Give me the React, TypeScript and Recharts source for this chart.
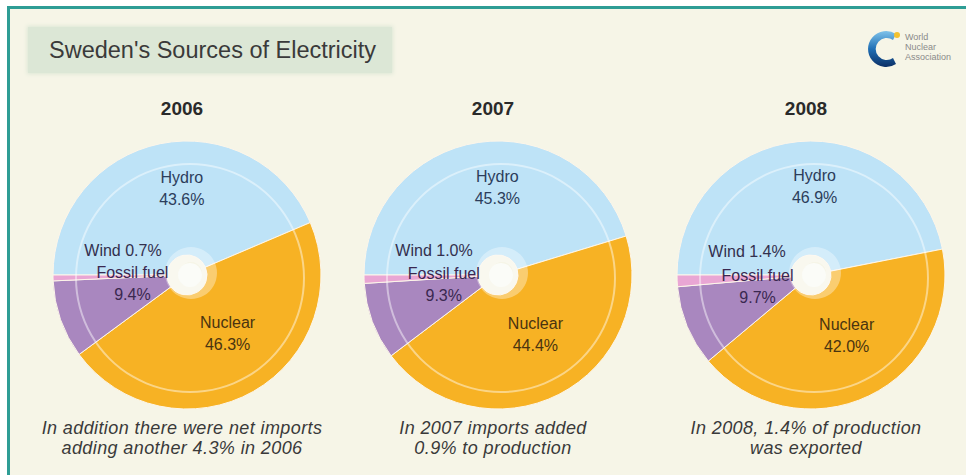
import { PieChart, Pie, Cell } from 'recharts'

// Sweden's electricity sources, share of production (%)
const years = ['2006', '2007', '2008']
const sources = ['Hydro', 'Nuclear', 'Fossil fuel', 'Wind']
const share2006 = [43.6, 46.3, 9.4, 0.7]
const share2007 = [45.3, 44.4, 9.3, 1.0]
const share2008 = [46.9, 42.0, 9.7, 1.4]
const notes = [
  ['In addition there were net imports', 'adding another 4.3% in 2006'],
  ['In 2007 imports added', '0.9% to production'],
  ['In 2008, 1.4% of production', 'was exported'],
]

const shares = [share2006, share2007, share2008]
const pieData = shares.map((vals) => sources.map((name, i) => ({ name, value: vals[i] })))

const W = 966
const H = 475
const centersX = [182, 493, 806]
const CY = 270
const R = 134

const sliceColors: Record<string, string> = {
  Hydro: '#bee3f7',
  Nuclear: '#f7b224',
  'Fossil fuel': '#a987bf',
  Wind: '#e9a6d4',
}
const textColors: Record<string, string> = {
  Hydro: '#2c3d5b',
  Nuclear: '#4a3410',
  'Fossil fuel': '#3a2850',
  Wind: '#33304e',
}
// label distance from centre plus small nudges
const labelPos: Record<string, { r: number; dx: number; dy: number }> = {
  Hydro: { r: 86, dx: 12, dy: -3 },
  Nuclear: { r: 78, dx: 2, dy: -10 },
  'Fossil fuel': { r: 60, dx: 2, dy: -12 },
  Wind: { r: 60, dx: -4, dy: -26 },
}

const font = '"Liberation Sans", Arial, sans-serif'

const renderLabel = (props: any) => {
  const { cx, cy, midAngle, name, value } = props
  const pos = labelPos[name]
  const rad = Math.PI / 180
  const x = cx + pos.r * Math.cos(-midAngle * rad) + pos.dx
  const y = cy + pos.r * Math.sin(-midAngle * rad) + pos.dy
  const pct = `${Number(value).toFixed(1)}%`
  const common = {
    textAnchor: 'middle' as const,
    fill: textColors[name],
    fontFamily: font,
    fontSize: 16,
    dominantBaseline: 'central' as const,
  }
  if (name === 'Wind') {
    return (
      <text x={x} y={y} {...common}>
        {`${name} ${pct}`}
      </text>
    )
  }
  return (
    <text x={x} y={y} {...common}>
      <tspan x={x} dy={-11}>{name}</tspan>
      <tspan x={x} dy={22}>{pct}</tspan>
    </text>
  )
}

function Logo() {
  return (
    <svg width={100} height={50} style={{ position: 'absolute', left: 864, top: 24 }}>
      <defs>
        <linearGradient id="wna" x1="0" y1="0" x2="0" y2="1">
          <stop offset="0" stopColor="#7fc3ea" />
          <stop offset="0.5" stopColor="#1f6fb5" />
          <stop offset="1" stopColor="#0b2f66" />
        </linearGradient>
      </defs>
      <path d="M 32 10 A 18 18 0 1 0 32 40 L 29 34 A 11 11 0 1 1 29 16 Z" fill="url(#wna)" />
      <circle cx={33} cy={11} r={3} fill="#f2c230" />
      <text x={41} y={16} fontSize={9} fill="#8a8a8a" fontFamily={font}>World</text>
      <text x={41} y={26} fontSize={9} fill="#8a8a8a" fontFamily={font}>Nuclear</text>
      <text x={41} y={36} fontSize={9} fill="#8a8a8a" fontFamily={font}>Association</text>
    </svg>
  )
}

export default function App() {
  return (
    <div
      style={{
        position: 'absolute',
        left: 0,
        top: 0,
        width: W,
        height: H,
        background: '#ffffff',
        overflow: 'hidden',
        fontFamily: font,
      }}
    >
      <div
        style={{
          position: 'absolute',
          left: 7,
          top: 6,
          width: W,
          height: H,
          background: '#f6f5e7',
          borderTop: '3px solid #2e9d95',
          borderLeft: '3px solid #2e9d95',
        }}
      />
      <div
        style={{
          position: 'absolute',
          left: 28,
          top: 27,
          width: 364,
          height: 46,
          background: '#dce7d6',
          boxShadow: '0 0 4px 1px #dce7d6',
          color: '#3a3a3a',
          fontSize: 23.5,
          lineHeight: '46px',
          paddingLeft: 21,
          boxSizing: 'border-box',
          whiteSpace: 'nowrap',
        }}
      >
        Sweden's Sources of Electricity
      </div>
      <Logo />

      <div style={{ position: 'absolute', left: 0, top: 0 }}>
        <PieChart width={W} height={H}>
          {pieData.map((data, k) => (
            <Pie
              key={`main-${k}`}
              data={data}
              dataKey="value"
              nameKey="name"
              cx={centersX[k]}
              cy={CY}
              innerRadius={20}
              outerRadius={R}
              startAngle={180}
              endAngle={-180}
              stroke="#fdf6ea"
              strokeWidth={1}
              label={renderLabel}
              labelLine={false}
              isAnimationActive={false}
            >
              {data.map((d) => (
                <Cell key={d.name} fill={sliceColors[d.name]} />
              ))}
            </Pie>
          ))}
          {/* bevel ring */}
          {pieData.map((data, k) => (
            <Pie
              key={`ring-${k}`}
              data={[{ name: 'ring', value: 1 }]}
              dataKey="value"
              cx={centersX[k] + 3}
              cy={CY + 3}
              innerRadius={113}
              outerRadius={115}
              startAngle={180}
              endAngle={-180}
              fill="rgba(255,255,255,0.45)"
              stroke="none"
              isAnimationActive={false}
            />
          ))}
          {/* hole and its highlight */}
          {pieData.map((data, k) => (
            <Pie
              key={`glow-${k}`}
              data={[{ name: 'glow', value: 1 }]}
              dataKey="value"
              cx={centersX[k] + 4}
              cy={CY - 2}
              innerRadius={11}
              outerRadius={26}
              startAngle={180}
              endAngle={-180}
              fill="rgba(255,255,255,0.35)"
              stroke="none"
              isAnimationActive={false}
            />
          ))}
          {pieData.map((data, k) => (
            <Pie
              key={`hole-${k}`}
              data={[{ name: 'hole', value: 1 }]}
              dataKey="value"
              cx={centersX[k] + 3}
              cy={CY}
              innerRadius={0}
              outerRadius={12}
              startAngle={180}
              endAngle={-180}
              fill="#fbfcf8"
              stroke="none"
              isAnimationActive={false}
            />
          ))}
        </PieChart>
      </div>

      {years.map((y, k) => (
        <div
          key={y}
          style={{
            position: 'absolute',
            left: centersX[k] - 100,
            top: 97,
            width: 200,
            textAlign: 'center',
            fontSize: 19,
            fontWeight: 'bold',
            lineHeight: '24px',
            color: '#2a2a2a',
          }}
        >
          {y}
        </div>
      ))}

      {notes.map((lines, k) => (
        <div
          key={k}
          style={{
            position: 'absolute',
            left: centersX[k] - 160,
            top: 418,
            width: 320,
            textAlign: 'center',
            fontSize: 18,
            letterSpacing: 0.4,
            fontStyle: 'italic',
            lineHeight: '20px',
            color: '#3a3a3a',
          }}
        >
          {lines.map((l) => (
            <div key={l}>{l}</div>
          ))}
        </div>
      ))}
    </div>
  )
}
